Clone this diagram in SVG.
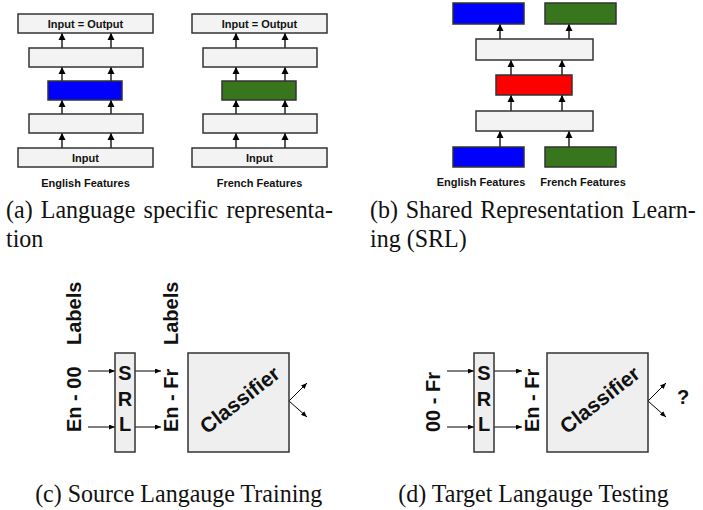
<svg xmlns="http://www.w3.org/2000/svg" width="703" height="510" viewBox="0 0 703 510">
<defs>
<marker id="ah" markerUnits="userSpaceOnUse" markerWidth="7" markerHeight="8" refX="7" refY="4" orient="auto"><path d="M0,0.5 L7,4 L0,7.5 z" fill="#000"/></marker>
<marker id="ahs" markerUnits="userSpaceOnUse" markerWidth="6" markerHeight="5" refX="6" refY="2.5" orient="auto"><path d="M0,0 L6,2.5 L0,5 z" fill="#000"/></marker>
</defs>
<style>
.box{stroke:#333;stroke-width:1.5;fill:#f3f3f3}
.blue{stroke:#333;stroke-width:1.5;fill:#0000ff}
.green{stroke:#333;stroke-width:1.5;fill:#38761d}
.red{stroke:#333;stroke-width:1.5;fill:#ff0000}
.big{stroke:#333;stroke-width:1.5;fill:#efefef}
.sm{font-family:"Liberation Sans",Arial,sans-serif;font-weight:bold;font-size:11px;fill:#111;text-anchor:middle}
.lb{font-family:"Liberation Sans",Arial,sans-serif;font-weight:bold;font-size:20px;fill:#111}
.cl{font-family:"Liberation Sans",Arial,sans-serif;font-weight:bold;font-size:21px;fill:#111;text-anchor:middle}
.mid{text-anchor:middle}
.cap{font-family:"Liberation Serif","Times New Roman",serif;font-size:24px;fill:#111}
.ar{stroke:#000;stroke-width:1.3;fill:none;marker-end:url(#ah)}
.as{stroke:#000;stroke-width:1;fill:none;marker-end:url(#ahs)}
</style>

<g id="connectors">
  <line class="ar" x1="62" y1="148" x2="62" y2="133"/>
  <line class="ar" x1="111" y1="148" x2="111" y2="133"/>
  <line class="ar" x1="62" y1="114" x2="62" y2="100"/>
  <line class="ar" x1="111" y1="114" x2="111" y2="100"/>
  <line class="ar" x1="62" y1="81" x2="62" y2="67"/>
  <line class="ar" x1="111" y1="81" x2="111" y2="67"/>
  <line class="ar" x1="62" y1="48" x2="62" y2="33"/>
  <line class="ar" x1="111" y1="48" x2="111" y2="33"/>
  <line class="ar" x1="236" y1="148" x2="236" y2="133"/>
  <line class="ar" x1="285" y1="148" x2="285" y2="133"/>
  <line class="ar" x1="236" y1="114" x2="236" y2="100"/>
  <line class="ar" x1="285" y1="114" x2="285" y2="100"/>
  <line class="ar" x1="236" y1="81" x2="236" y2="67"/>
  <line class="ar" x1="285" y1="81" x2="285" y2="67"/>
  <line class="ar" x1="236" y1="48" x2="236" y2="33"/>
  <line class="ar" x1="285" y1="48" x2="285" y2="33"/>
  <line class="ar" x1="500" y1="147" x2="500" y2="131"/>
  <line class="ar" x1="569" y1="147" x2="569" y2="131"/>
  <line class="ar" x1="511" y1="111" x2="511" y2="95"/>
  <line class="ar" x1="562" y1="111" x2="562" y2="95"/>
  <line class="ar" x1="511" y1="75" x2="511" y2="60"/>
  <line class="ar" x1="562" y1="75" x2="562" y2="60"/>
  <line class="ar" x1="500" y1="39" x2="500" y2="24"/>
  <line class="ar" x1="569" y1="39" x2="569" y2="24"/>
  <line class="as" x1="88" y1="371" x2="115" y2="371"/>
  <line class="as" x1="88" y1="427" x2="115" y2="427"/>
  <line class="as" x1="135" y1="371" x2="161" y2="371"/>
  <line class="as" x1="135" y1="427" x2="161" y2="427"/>
  <line class="as" x1="289" y1="401" x2="307" y2="383"/>
  <line class="as" x1="289" y1="401" x2="307" y2="417"/>
  <line class="as" x1="447" y1="371" x2="474" y2="371"/>
  <line class="as" x1="447" y1="427" x2="474" y2="427"/>
  <line class="as" x1="494" y1="371" x2="522" y2="371"/>
  <line class="as" x1="494" y1="427" x2="522" y2="427"/>
  <line class="as" x1="648" y1="401" x2="666" y2="383"/>
  <line class="as" x1="648" y1="401" x2="666" y2="417"/>
</g>

<g id="en-output"><rect class="box" x="18" y="14" width="135" height="19"/><text class="sm" x="85.5" y="27.5">Input = Output</text></g>
<g id="en-h1"><rect class="box" x="29" y="48" width="114" height="19"/></g>
<g id="en-code"><rect class="blue" x="48" y="81" width="74" height="19"/></g>
<g id="en-h2"><rect class="box" x="29" y="114" width="114" height="19"/></g>
<g id="en-input"><rect class="box" x="18" y="148" width="135" height="19"/><text class="sm" x="85.5" y="161.5">Input</text></g>
<g id="en-label"><text class="sm" x="85.5" y="187">English Features</text></g>

<g id="fr-output"><rect class="box" x="192" y="14" width="135" height="19"/><text class="sm" x="259.5" y="27.5">Input = Output</text></g>
<g id="fr-h1"><rect class="box" x="203" y="48" width="114" height="19"/></g>
<g id="fr-code"><rect class="green" x="222" y="81" width="74" height="19"/></g>
<g id="fr-h2"><rect class="box" x="203" y="114" width="114" height="19"/></g>
<g id="fr-input"><rect class="box" x="192" y="148" width="135" height="19"/><text class="sm" x="259.5" y="161.5">Input</text></g>
<g id="fr-label"><text class="sm" x="259.5" y="187">French Features</text></g>

<g id="b-en-out"><rect class="blue" x="453" y="3" width="71" height="21"/></g>
<g id="b-fr-out"><rect class="green" x="545" y="3" width="71" height="21"/></g>
<g id="b-h1"><rect class="box" x="476" y="39" width="117" height="21"/></g>
<g id="b-shared"><rect class="red" x="496" y="75" width="76" height="20"/></g>
<g id="b-h2"><rect class="box" x="476" y="111" width="117" height="20"/></g>
<g id="b-en-in"><rect class="blue" x="453" y="147" width="71" height="20"/><text class="sm" x="481" y="186">English Features</text></g>
<g id="b-fr-in"><rect class="green" x="545" y="147" width="71" height="20"/><text class="sm" x="583" y="186">French Features</text></g>

<g id="cap-a"><text class="cap" transform="translate(6,218) scale(1,1.06)" word-spacing="2.2">(a) Language specific representa-</text><text class="cap" transform="translate(6,247) scale(1,1.06)">tion</text></g>
<g id="cap-b"><text class="cap" transform="translate(370,218) scale(1,1.06)" word-spacing="1.8">(b) Shared Representation Learn-</text><text class="cap" transform="translate(370,247) scale(1,1.06)">ing (SRL)</text></g>

<g id="c-in"><text class="lb" transform="translate(81,432) rotate(-90)">En - 00</text><text class="lb" transform="translate(81,345) rotate(-90)">Labels</text></g>
<g id="c-srl"><rect class="big" x="115" y="353" width="20" height="99"/><text class="lb mid" x="125" y="380">S</text><text class="lb mid" x="125" y="405.5">R</text><text class="lb mid" x="125" y="431">L</text></g>
<g id="c-out"><text class="lb" transform="translate(178,432) rotate(-90)">En - Fr</text><text class="lb" transform="translate(178,345) rotate(-90)">Labels</text></g>
<g id="c-classifier"><rect class="big" x="188" y="353" width="101" height="99"/><text class="cl" transform="translate(240,400) rotate(-38)" x="0" y="7">Classifier</text></g>
<g id="cap-c"><text class="cap mid" transform="translate(178.7,502) scale(1,1.08)">(c) Source Langauge Training</text></g>

<g id="d-in"><text class="lb" transform="translate(440,432) rotate(-90)">00 - Fr</text></g>
<g id="d-srl"><rect class="big" x="474" y="353" width="20" height="99"/><text class="lb mid" x="484" y="380">S</text><text class="lb mid" x="484" y="405.5">R</text><text class="lb mid" x="484" y="431">L</text></g>
<g id="d-out"><text class="lb" transform="translate(539,432) rotate(-90)">En - Fr</text></g>
<g id="d-classifier"><rect class="big" x="547" y="353" width="101" height="99"/><text class="cl" transform="translate(600,400) rotate(-38)" x="0" y="7">Classifier</text></g>
<g id="d-q"><text class="lb mid" x="683" y="404">?</text></g>
<g id="cap-d"><text class="cap mid" transform="translate(533.5,502) scale(1,1.08)">(d) Target Langauge Testing</text></g>
</svg>
